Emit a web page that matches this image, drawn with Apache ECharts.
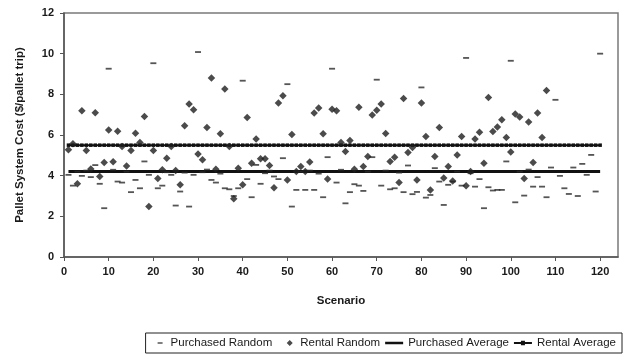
<!DOCTYPE html>
<html>
<head>
<meta charset="utf-8">
<script src="https://cdn.jsdelivr.net/npm/echarts@6/dist/echarts.min.js"></script>
<style>
  html, body { margin: 0; padding: 0; background: #fff; }
  #chart { width: 624px; height: 358px; }
</style>
</head>
<body>
<div id="chart"></div>
<script>
// purchased random cost per scenario (1..120)
const purchasedRandom = [
  4.04, 3.51, 4.2, 3.99, 4.25, 3.93, 4.52, 3.6, 2.4, 9.26,
  4.29, 3.71, 3.66, 4.2, 3.19, 3.79, 3.38, 4.7, 4.04, 9.53,
  3.38, 3.51, 4.17, 4.04, 2.53, 3.22, 4.15, 2.48, 4.04, 10.08,
  4.17, 4.3, 3.79, 3.66, 4.1, 3.38, 3.33, 3.0, 3.38, 8.67,
  3.83, 2.94, 4.53, 3.6, 4.12, 4.25, 3.96, 3.83, 4.86, 8.5,
  2.48, 3.3, 4.2, 3.3, 4.25, 3.3, 4.1, 2.94, 4.91, 9.26,
  3.66, 4.29, 2.64, 3.19, 3.58, 3.51, 3.25, 4.2, 4.91, 8.72,
  3.51, 4.25, 3.33, 3.38, 4.15, 3.19, 4.5, 3.09, 3.2, 8.34,
  2.92, 3.05, 4.37, 3.71, 2.56, 3.55, 3.71, 4.2, 3.51, 9.79,
  4.12, 3.46, 3.83, 2.4, 3.43, 3.27, 3.3, 3.3, 4.7, 9.65,
  2.69, 4.2, 3.02, 4.3, 3.46, 3.93, 3.46, 2.94, 4.4, 7.73,
  3.99, 3.38, 3.1, 4.4, 3.0, 4.58, 4.04, 5.02, 3.22, 10.0
];

// rental random cost per scenario (1..108)
const rentalRandom = [
  5.27, 5.57, 3.6, 7.19, 5.24, 4.33, 7.09, 3.96, 4.65, 6.24,
  4.68, 6.19, 5.43, 4.48, 5.24, 6.09, 5.63, 6.91, 2.48, 5.24,
  3.86, 4.29, 4.86, 5.43, 4.25, 3.55, 6.45, 7.52, 7.24, 5.07,
  4.78, 6.37, 8.8, 4.32, 6.06, 8.26, 5.43, 2.86, 4.37, 3.55,
  6.86, 4.61, 5.8, 4.83, 4.83, 4.5, 3.41, 7.57, 7.93, 3.79,
  6.02, 4.2, 4.45, 4.2, 4.67, 7.08, 7.33, 6.06, 3.84, 7.27,
  7.19, 5.63, 5.19, 5.73, 4.32, 7.37, 4.45, 4.94, 6.98, 7.22,
  7.52, 6.07, 4.7, 4.91, 3.66, 7.8, 5.14, 5.38, 3.79, 7.57,
  5.93, 3.3, 4.94, 6.37, 3.88, 4.45, 3.74, 5.02, 5.93, 3.5,
  4.2, 5.8, 6.14, 4.61, 7.85, 6.17, 6.39, 6.75, 5.88, 5.16,
  7.03, 6.88, 3.86, 6.64, 4.65, 7.08, 5.88, 8.19
];

const purchasedAverage = 4.2;
const rentalAverage = 5.5;

const scenarios = purchasedRandom.map((_, i) => i + 1);
const xTicks = [0, 10, 20, 30, 40, 50, 60, 70, 80, 90, 100, 110, 120];

const chart = echarts.init(document.getElementById('chart'));

const font = 'Liberation Sans, Arial, sans-serif';
const ink = '#1a1a1a';

// legend icons padded to an 18x8 box so the small marks stay small
const box = 'M0,0 L0,0 Z M18,8 L18,8 Z ';
const dashIcon = 'path://' + box + 'M10,3.2 L15,3.2 L15,4.8 L10,4.8 Z';
const diamondIcon = 'path://' + box + 'M12.5,1 L15.5,4 L12.5,7 L9.5,4 Z';
const lineIcon = 'path://' + box + 'M0,2.8 L18,2.8 L18,5.2 L0,5.2 Z';
const markedLineIcon = 'path://' + box + 'M0,3 L18,3 L18,5 L0,5 Z M7,1.8 L11,1.8 L11,6.2 L7,6.2 Z';

const option = {
  animation: false,
  textStyle: { fontFamily: font },
  grid: {
    left: 64, right: 6, top: 13, bottom: 101,
    show: true, borderColor: '#7a7a7a', borderWidth: 1.5
  },
  legend: {
    right: 2, bottom: 5,
    borderColor: '#222', borderWidth: 1, borderRadius: 0,
    padding: [4, 6, 4, 2],
    itemGap: 5, itemWidth: 18, itemHeight: 8,
    textStyle: { fontFamily: font, fontSize: 11.5, color: ink },
    data: [
      { name: 'Purchased Random', icon: dashIcon },
      { name: 'Rental Random', icon: diamondIcon },
      { name: 'Purchased Average', icon: lineIcon },
      { name: 'Rental Average', icon: markedLineIcon }
    ]
  },
  xAxis: {
    type: 'value', min: 0, max: 124,
    name: 'Scenario', nameLocation: 'middle', nameGap: 38,
    nameTextStyle: { fontFamily: font, fontWeight: 'bold', fontSize: 11.5, color: ink },
    splitLine: { show: false },
    axisLine: { lineStyle: { color: '#555', width: 1.5 } },
    axisTick: { customValues: xTicks, length: 4, lineStyle: { color: '#555' } },
    axisLabel: {
      customValues: xTicks, margin: 9,
      fontFamily: font, fontWeight: 'bold', fontSize: 11, color: ink
    }
  },
  yAxis: {
    type: 'value', min: 0, max: 12, interval: 2,
    name: 'Pallet System Cost ($/pallet trip)', nameLocation: 'middle', nameGap: 38,
    nameTextStyle: { fontFamily: font, fontWeight: 'bold', fontSize: 11.5, color: ink },
    splitLine: { show: false },
    axisLine: { show: true, lineStyle: { color: '#555', width: 1.5 } },
    axisTick: { show: true, length: 4, lineStyle: { color: '#555' } },
    axisLabel: { margin: 10, fontFamily: font, fontWeight: 'bold', fontSize: 11, color: ink }
  },
  series: [
    {
      name: 'Purchased Random', type: 'scatter',
      symbol: 'rect', symbolSize: [6, 1.8],
      itemStyle: { color: '#2a2a2a' },
      data: purchasedRandom.map((v, i) => [scenarios[i], v]),
      z: 3
    },
    {
      name: 'Rental Random', type: 'scatter',
      symbol: 'diamond', symbolSize: 7.5,
      itemStyle: { color: '#1e1e1e' },
      data: rentalRandom.map((v, i) => [scenarios[i], v]),
      z: 4
    },
    {
      name: 'Purchased Average', type: 'line',
      showSymbol: false, symbol: 'none',
      lineStyle: { color: '#111', width: 3 },
      itemStyle: { color: '#111' },
      data: scenarios.map(s => [s, purchasedAverage]),
      z: 2
    },
    {
      name: 'Rental Average', type: 'line',
      symbol: 'rect', symbolSize: 3.5, showAllSymbol: true,
      lineStyle: { color: '#111', width: 2 },
      itemStyle: { color: '#111' },
      data: scenarios.map(s => [s, rentalAverage]),
      z: 2
    }
  ]
};

chart.setOption(option);
</script>
</body>
</html>
